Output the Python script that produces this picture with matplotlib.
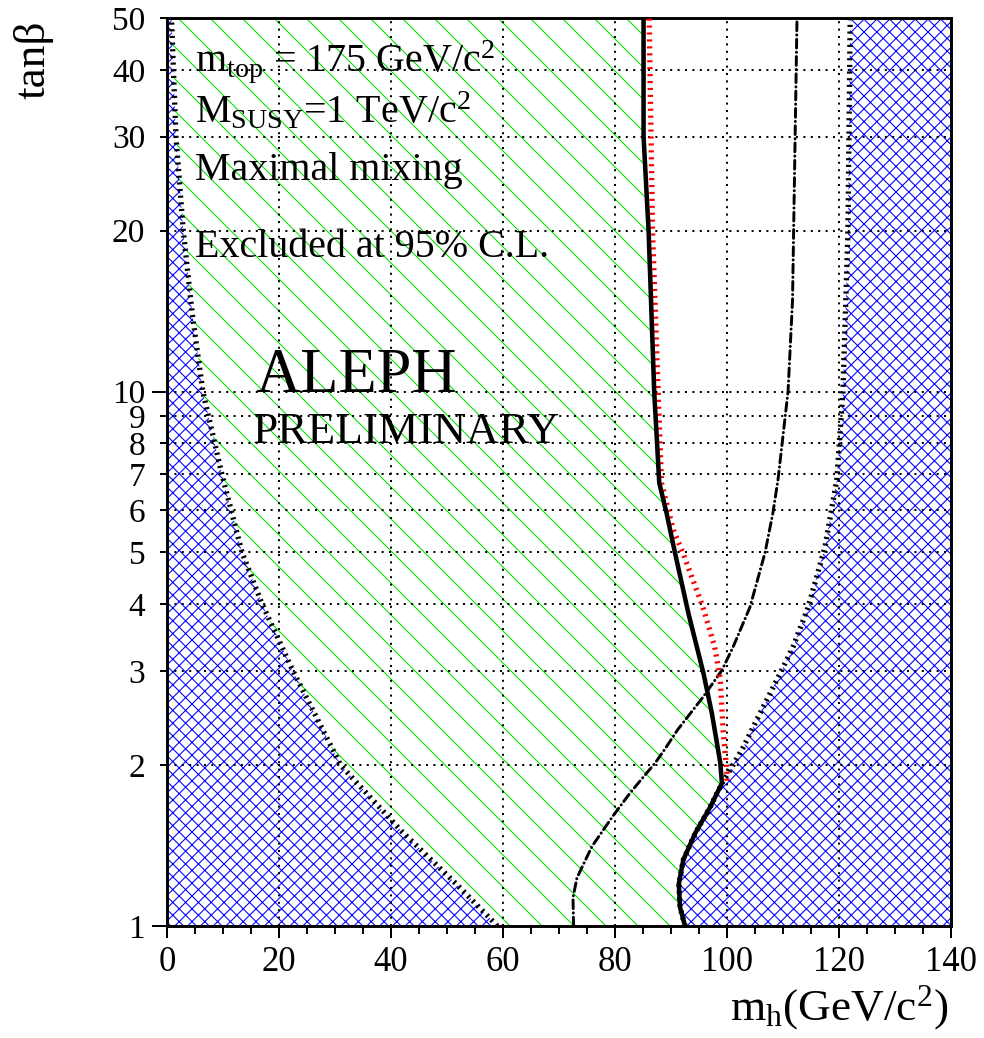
import numpy as np
import matplotlib
matplotlib.use('Agg')
import matplotlib.pyplot as plt
from matplotlib.ticker import FixedLocator, FixedFormatter, MultipleLocator

# theoretically disallowed region, low m_h side (left blue)
tanb_left = [1, 1.2, 1.5, 2, 3, 4, 5, 7, 10, 14, 20, 30, 50]
mh_left = [59, 51.6, 42, 31, 22.5, 17, 13.4, 9.8, 6.4, 4.5, 2.9, 1.6, 0.8]

# theoretically disallowed region, high m_h side (right blue)
tanb_right = [1, 1.085, 1.2, 1.33, 1.49, 1.67, 1.85, 1.93, 2.16, 2.5, 2.97, 3.33,
              3.95, 5.12, 6.83, 10, 20, 50]
mh_right = [92.5, 91.6, 91.4, 92.2, 94.3, 97.0, 99.1, 100.2, 102.9, 105.9, 109.5, 111.8,
            114.5, 117.5, 119.6, 120.7, 121.6, 122]

# observed 95% CL exclusion limit (thick black)
tanb_lim = [1, 1.085, 1.2, 1.33, 1.49, 1.67, 1.85, 2.02, 2.5, 2.97, 3.85, 5.0,
            5.93, 6.75, 10, 20, 30, 50]
mh_lim = [92.5, 91.6, 91.4, 92.2, 94.3, 97.0, 99.1, 98.8, 97.3, 95.8, 93.1, 90.7,
          89.2, 87.9, 87.0, 86.0, 85.1, 85.1]

# red dotted curve
tanb_red = [1.87, 1.93, 2.33, 2.89, 3.33, 3.95, 5.0, 5.51, 6.75, 10, 20, 50]
mh_red = [100, 100, 99.3, 98.8, 97.8, 95.7, 92.1, 90.4, 88.3, 87.7, 86.7, 86.1]

# dash-dotted curve
tanb_dd = [1, 1.13, 1.23, 1.41, 1.61, 1.78, 1.93, 2.02, 2.15, 2.33, 2.68, 3.01, 3.33,
           3.95, 5.0, 5.93, 6.83, 10, 14.8, 50]
mh_dd = [72.6, 72.5, 73.2, 75.9, 79.7, 82.8, 85.6, 87.2, 89.0, 91.2, 95.7, 99.1, 101.1,
         104.1, 106.8, 108.2, 109.1, 110.9, 111.7, 112.5]

x_major = [0, 20, 40, 60, 80, 100, 120, 140]
y_major = [1, 10]
y_minor = [2, 3, 4, 5, 6, 7, 8, 9, 20, 30, 40, 50]

plt.rcParams['font.family'] = ['Liberation Serif', 'DejaVu Serif']
plt.rcParams['mathtext.fontset'] = 'custom'
plt.rcParams['mathtext.rm'] = 'Liberation Serif'
plt.rcParams['mathtext.it'] = 'Liberation Serif:italic'
plt.rcParams['hatch.linewidth'] = 0.4

fig = plt.figure(figsize=(5.125, 5.40625), dpi=192)
ax = fig.add_axes([167/984, 1-926/1038, 784/984, 908/1038])
ax.set_yscale('log')

# excluded region (green hatch)
ax.fill_betweenx(tanb_lim, 0, mh_lim, facecolor='none', edgecolor='#00e000',
                 hatch='\\\\', linewidth=0, zorder=1)
# disallowed regions (blue cross-hatch)
ax.fill_betweenx(tanb_left, 0, mh_left, facecolor='white', edgecolor='none', zorder=1.2)
ax.fill_betweenx(tanb_left, 0, mh_left, facecolor='none', edgecolor='#0000ff',
                 hatch='xxxxx', linewidth=0, zorder=1.3)
ax.fill_betweenx(tanb_right, mh_right, 140, facecolor='white', edgecolor='none', zorder=1.2)
ax.fill_betweenx(tanb_right, mh_right, 140, facecolor='none', edgecolor='#0000ff',
                 hatch='xxxxx', linewidth=0, zorder=1.3)

dot = (0, (0.4, 0.85))
ax.plot(mh_left, tanb_left, color='black', lw=2.0, ls=dot, zorder=3)
ax.plot(mh_right, tanb_right, color='black', lw=2.0, ls=dot, zorder=3)
ax.plot(mh_dd, tanb_dd, color='black', lw=1.1, ls=(0, (3.0, 1.4, 0.1, 1.4)),
        dash_capstyle='round', zorder=4)
ax.plot(mh_red, tanb_red, color='red', lw=2.0, ls=(0, (0.4, 0.9)), zorder=4)
ax.plot(mh_lim, tanb_lim, color='black', lw=1.7, solid_joinstyle='round', zorder=5)

ax.set_xlim(0, 140)
ax.set_ylim(1, 50)

ax.xaxis.set_major_locator(FixedLocator(x_major))
ax.xaxis.set_minor_locator(MultipleLocator(5))
ax.yaxis.set_major_locator(FixedLocator(y_major))
ax.yaxis.set_major_formatter(FixedFormatter([str(v) for v in y_major]))
ax.yaxis.set_minor_locator(FixedLocator(y_minor))
ax.yaxis.set_minor_formatter(FixedFormatter([str(v) for v in y_minor]))

ax.tick_params(axis='x', which='major', direction='out', length=4.5, width=0.75,
               labelsize=13, pad=3)
ax.tick_params(axis='x', which='minor', direction='out', length=2.9, width=0.75)
ax.tick_params(axis='y', which='major', direction='out', length=5.6, width=0.75,
               labelsize=12.5, pad=2.6)
ax.tick_params(axis='y', which='minor', direction='out', length=2.8, width=0.75,
               labelsize=12.5, pad=5.4)
for s in ax.spines.values():
    s.set_linewidth(1.1)

grid_ls = (0, (1, 2.7))
ax.set_axisbelow(False)
ax.xaxis.grid(True, which='major', color='black', lw=0.75, ls=grid_ls)
ax.yaxis.grid(True, which='both', color='black', lw=0.75, ls=grid_ls)

ax.text(0.0357, 0.9409, r'm$_{\mathrm{top}}$ = 175 GeV/c$^{2}$', transform=ax.transAxes,
        fontsize=15, va='baseline', zorder=6)
ax.text(0.0357, 0.8844, r'M$_{\mathrm{SUSY}}$=1 TeV/c$^{2}$', transform=ax.transAxes,
        fontsize=15, va='baseline', zorder=6)
ax.text(0.0357, 0.8216, 'Maximal mixing', transform=ax.transAxes,
        fontsize=15, va='baseline', zorder=6)
ax.text(0.0357, 0.7371, 'Excluded at 95% C.L.', transform=ax.transAxes,
        fontsize=15, va='baseline', zorder=6)
ax.text(0.1122, 0.5884, 'ALEPH', transform=ax.transAxes, fontsize=23.5,
        va='baseline', zorder=6)
ax.text(0.1097, 0.532, 'PRELIMINARY', transform=ax.transAxes, fontsize=17,
        va='baseline', zorder=6)

fig.text(33/984, 1-60/1038, 'tanβ', rotation=90, fontsize=17, ha='center', va='center')
fig.text(948/984, 1-1020/1038, r'm$_{\mathrm{h}}$(GeV/c$^{2}$)', fontsize=17,
         ha='right', va='baseline')

fig.savefig('out.png', dpi=192)
